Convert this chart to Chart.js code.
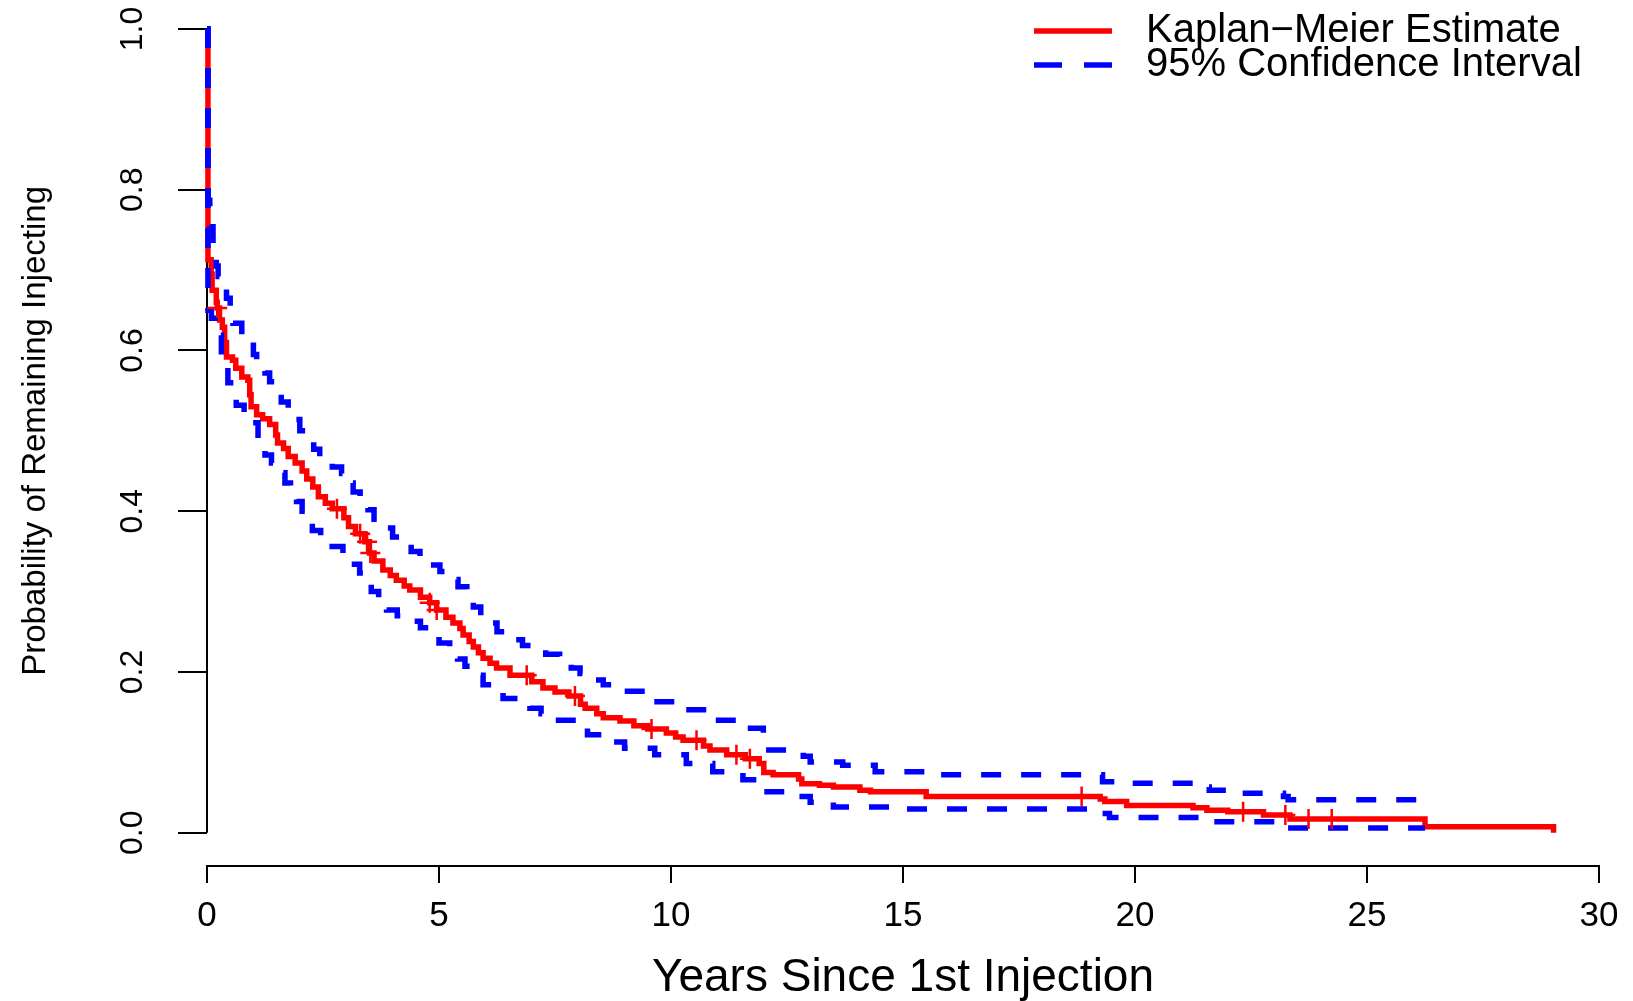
<!DOCTYPE html>
<html>
<head>
<meta charset="utf-8">
<script src="https://cdn.jsdelivr.net/npm/chart.js@4/dist/chart.umd.min.js"></script>
<style>
  html, body { margin: 0; padding: 0; background: #fff; }
  canvas { display: block; }
</style>
</head>
<body>
<canvas id="kmChart" width="1633" height="1001"></canvas>
<script>
// Kaplan-Meier estimate (step values after each event time)
const kmTime = [0, 0.02, 0.09, 0.11, 0.2, 0.22, 0.27, 0.33, 0.38, 0.42, 0.55, 0.62, 0.75, 0.88, 0.92, 0.95, 1.07, 1.2, 1.35, 1.48, 1.52, 1.65, 1.75, 1.9, 2.05, 2.15, 2.28, 2.4, 2.55, 2.7, 2.95, 3.05, 3.2, 3.4, 3.5, 3.6, 3.79, 3.95, 4.08, 4.25, 4.37, 4.6, 4.8, 4.95, 5.15, 5.3, 5.45, 5.52, 5.65, 5.74, 5.85, 5.95, 6.1, 6.24, 6.53, 7.0, 7.24, 7.5, 7.8, 8.05, 8.15, 8.4, 8.54, 8.9, 9.2, 9.5, 9.9, 10.1, 10.26, 10.7, 10.84, 11.2, 11.6, 11.9, 12.0, 12.2, 12.75, 12.82, 13.2, 13.5, 14.07, 14.3, 15.5, 19.25, 19.35, 19.82, 21.25, 21.55, 22.0, 22.77, 23.34, 26.25, 29.02]
const kmSurv = [1.0, 0.713, 0.695, 0.675, 0.66, 0.653, 0.638, 0.629, 0.61, 0.592, 0.588, 0.578, 0.567, 0.563, 0.545, 0.53, 0.52, 0.515, 0.508, 0.495, 0.485, 0.478, 0.468, 0.46, 0.45, 0.44, 0.43, 0.418, 0.41, 0.403, 0.392, 0.381, 0.372, 0.362, 0.348, 0.338, 0.327, 0.32, 0.314, 0.307, 0.302, 0.293, 0.286, 0.277, 0.268, 0.261, 0.254, 0.246, 0.238, 0.231, 0.224, 0.217, 0.211, 0.205, 0.196, 0.188, 0.18, 0.175, 0.17, 0.16, 0.155, 0.148, 0.143, 0.139, 0.133, 0.129, 0.124, 0.119, 0.115, 0.108, 0.103, 0.097, 0.092, 0.086, 0.075, 0.072, 0.067, 0.061, 0.059, 0.057, 0.053, 0.051, 0.045, 0.042, 0.039, 0.034, 0.031, 0.028, 0.026, 0.022, 0.017, 0.0075, 0.0]

// censored observations (+ marks)
const censorTime = [0.22, 2.8, 3.3, 3.45, 3.52, 4.8, 4.95, 6.89, 7.93, 9.58, 10.55, 11.41, 11.7, 18.85, 22.33, 23.24, 23.74, 24.24]
const censorSurv = [0.653, 0.403, 0.372, 0.362, 0.348, 0.286, 0.277, 0.196, 0.17, 0.129, 0.115, 0.097, 0.092, 0.045, 0.026, 0.022, 0.017, 0.017]

// 95% confidence band
const upperTime = [0, 0.02, 0.06, 0.13, 0.2, 0.24, 0.42, 0.5, 0.56, 0.75, 0.88, 1.0, 1.07, 1.25, 1.35, 1.5, 1.6, 1.75, 1.89, 2.0, 2.14, 2.3, 2.43, 2.7, 2.9, 3.05, 3.15, 3.3, 3.47, 3.6, 3.76, 4.0, 4.19, 4.4, 4.59, 4.8, 5.02, 5.2, 5.41, 5.6, 5.74, 5.9, 6.06, 6.25, 6.42, 6.8, 7.03, 7.3, 7.6, 7.85, 8.04, 8.3, 8.54, 9.0, 9.6, 10.2, 10.78, 11.4, 11.99, 12.85, 13.0, 13.7, 14.4, 15.6, 19.3, 19.75, 21.26, 21.6, 22.3, 23.2, 23.3, 26.25]
const upperVal = [1.0, 0.787, 0.754, 0.723, 0.705, 0.692, 0.665, 0.65, 0.634, 0.62, 0.611, 0.595, 0.585, 0.572, 0.561, 0.548, 0.536, 0.525, 0.514, 0.5, 0.489, 0.477, 0.466, 0.455, 0.447, 0.435, 0.424, 0.413, 0.402, 0.39, 0.379, 0.368, 0.36, 0.35, 0.341, 0.333, 0.325, 0.315, 0.306, 0.292, 0.281, 0.27, 0.261, 0.25, 0.24, 0.233, 0.229, 0.222, 0.215, 0.205, 0.198, 0.19, 0.184, 0.176, 0.163, 0.153, 0.14, 0.13, 0.103, 0.095, 0.088, 0.084, 0.076, 0.072, 0.0635, 0.0615, 0.057, 0.053, 0.049, 0.045, 0.041, 0.041]
const lowerTime = [0, 0.02, 0.095, 0.17, 0.31, 0.45, 0.63, 0.8, 0.92, 1.1, 1.25, 1.39, 1.55, 1.68, 1.8, 1.93, 2.05, 2.27, 2.45, 2.6, 2.93, 3.1, 3.29, 3.4, 3.54, 3.7, 3.87, 4.1, 4.37, 4.6, 4.8, 5.0, 5.23, 5.4, 5.56, 5.75, 5.95, 6.15, 6.38, 6.7, 6.96, 7.2, 7.43, 8.0, 8.2, 8.5, 9.0, 9.65, 10.33, 10.9, 11.55, 12.0, 12.7, 13.0, 13.5, 14.9, 19.2, 19.45, 21.6, 23.27, 26.25]
const lowerVal = [1.0, 0.65, 0.64, 0.619, 0.588, 0.56, 0.532, 0.52, 0.51, 0.48, 0.47, 0.46, 0.448, 0.435, 0.424, 0.412, 0.4, 0.376, 0.365, 0.356, 0.346, 0.334, 0.323, 0.312, 0.3, 0.29, 0.277, 0.27, 0.263, 0.255, 0.246, 0.236, 0.225, 0.216, 0.207, 0.196, 0.184, 0.175, 0.167, 0.16, 0.155, 0.148, 0.14, 0.132, 0.122, 0.113, 0.105, 0.097, 0.086, 0.076, 0.066, 0.051, 0.045, 0.038, 0.032, 0.0295, 0.024, 0.019, 0.0137, 0.006, 0.006]

const xTicks = [0, 5, 10, 15, 20, 25, 30]
const xTickLabels = ["0", "5", "10", "15", "20", "25", "30"]
const yTicks = [0, 0.2, 0.4, 0.6, 0.8, 1.0]
const yTickLabels = ["0.0", "0.2", "0.4", "0.6", "0.8", "1.0"]
const yTitle = "Probability of Remaining Injecting"

const FONT = "'Liberation Sans', Arial, Helvetica, sans-serif"
const RED = "#ff0000"
const BLUE = "#0000ff"

const toPoints = (xs, ys) => xs.map((x, i) => ({ x: x, y: ys[i] }))

// R-style y axis: line only from 0 to 1, title centred on that span
const yAxisLine = {
  id: "yAxisLine",
  beforeDatasetsDraw(chart) {
    const { ctx, scales } = chart
    const x0 = scales.x.getPixelForValue(0)
    const yBot = scales.y.getPixelForValue(yTicks[0])
    const yTop = scales.y.getPixelForValue(yTicks[yTicks.length - 1])
    ctx.save()
    ctx.strokeStyle = "#000"
    ctx.lineWidth = 2
    ctx.beginPath()
    ctx.moveTo(x0, yBot)
    ctx.lineTo(x0, yTop)
    ctx.stroke()

    ctx.translate(36, (yBot + yTop) / 2)
    ctx.rotate(-Math.PI / 2)
    ctx.fillStyle = "#000"
    ctx.font = "33px " + FONT
    ctx.textAlign = "center"
    ctx.textBaseline = "middle"
    ctx.fillText(yTitle, 0, 0)
    ctx.restore()
  }
}

// legend in the top right corner, like legend("topright") in R
const cornerLegend = {
  id: "cornerLegend",
  afterDraw(chart) {
    const { ctx } = chart
    const rows = [
      { ds: chart.data.datasets[2], dash: [], y: 31 },
      { ds: chart.data.datasets[0], dash: [28, 22], y: 65 }
    ]
    ctx.save()
    rows.forEach(r => {
      ctx.strokeStyle = r.ds.borderColor
      ctx.lineWidth = r.ds.borderWidth
      ctx.setLineDash(r.dash)
      ctx.beginPath()
      ctx.moveTo(1034, r.y)
      ctx.lineTo(1112, r.y)
      ctx.stroke()
      ctx.setLineDash([])
      ctx.fillStyle = "#000"
      ctx.font = "40px " + FONT
      ctx.textBaseline = "middle"
      ctx.textAlign = "left"
      ctx.fillText(r.ds.label, 1146, r.y)
    })
    ctx.restore()
  }
}

const bandStyle = {
  borderColor: BLUE,
  borderWidth: 5.5,
  borderDash: [20, 20],
  borderCapStyle: "butt",
  stepped: "before",
  pointRadius: 0,
  fill: false,
  order: 1
}

const config = {
  type: "line",
  data: {
    datasets: [
      Object.assign({ label: "95% Confidence Interval", data: toPoints(upperTime, upperVal) }, bandStyle),
      Object.assign({ label: "", data: toPoints(lowerTime, lowerVal) }, bandStyle),
      {
        label: "Kaplan\u2212Meier Estimate",
        data: toPoints(kmTime, kmSurv),
        borderColor: RED,
        borderWidth: 5.5,
        stepped: "before",
        pointRadius: 0,
        fill: false,
        order: 2
      },
      {
        label: "censored",
        data: toPoints(censorTime, censorSurv),
        showLine: false,
        pointStyle: "cross",
        pointRadius: 10,
        pointBorderColor: RED,
        pointBorderWidth: 2.5,
        order: 0
      }
    ]
  },
  options: {
    responsive: false,
    animation: false,
    devicePixelRatio: 1,
    clip: false,
    layout: { padding: { top: 29, right: 34, bottom: 0, left: 0 } },
    plugins: {
      legend: { display: false },
      tooltip: { enabled: false }
    },
    scales: {
      x: {
        type: "linear",
        min: 0,
        max: 30,
        afterBuildTicks: s => { s.ticks = xTicks.map(v => ({ value: v })) },
        afterFit: s => { s.height = 135; s.paddingLeft = 0; s.paddingRight = 0 },
        ticks: {
          autoSkip: false,
          maxRotation: 0,
          padding: 12,
          color: "#000",
          font: { family: FONT, size: 35 },
          callback: (v, i) => xTickLabels[i]
        },
        grid: { drawOnChartArea: false, tickLength: 17, color: "#000", lineWidth: 2 },
        border: { display: true, color: "#000", width: 2 },
        title: {
          display: true,
          text: "Years Since 1st Injection",
          color: "#000",
          font: { family: FONT, size: 46, lineHeight: 1 },
          padding: { top: 0, bottom: 0 }
        }
      },
      y: {
        type: "linear",
        min: -0.0414,
        max: 1.0,
        afterBuildTicks: s => { s.ticks = yTicks.map(v => ({ value: v })) },
        afterFit: s => { s.width = 207; s.paddingTop = 0; s.paddingBottom = 0 },
        ticks: {
          autoSkip: false,
          minRotation: 90,
          maxRotation: 90,
          crossAlign: "center",
          padding: 23,
          color: "#000",
          font: { family: FONT, size: 32 },
          callback: (v, i) => yTickLabels[i]
        },
        grid: { drawOnChartArea: false, tickLength: 29, color: "#000", lineWidth: 2 },
        border: { display: false },
        title: { display: false }
      }
    }
  },
  plugins: [yAxisLine, cornerLegend]
}

const kmChart = new Chart(document.getElementById("kmChart"), config)
</script>
</body>
</html>
